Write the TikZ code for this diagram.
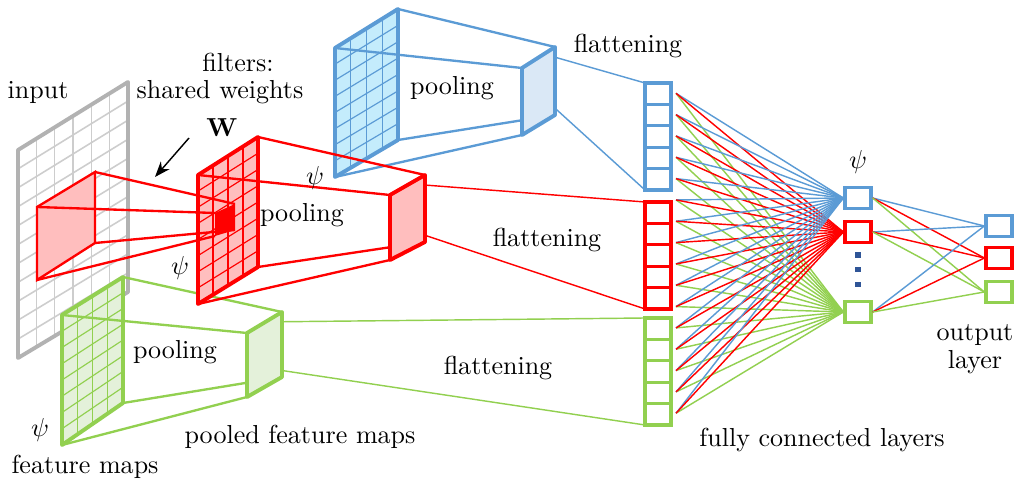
\documentclass[tikz,border=0pt]{standalone}
\usepackage{amsmath,amssymb}
\usepackage{tikz}
\usetikzlibrary{positioning,calc,arrows.meta}

\definecolor{fblue}{RGB}{91,155,213}
\definecolor{fred}{RGB}{255,0,0}
\definecolor{fgreen}{RGB}{146,208,80}
\definecolor{lblue}{RGB}{196,236,252}
\definecolor{pblue}{RGB}{218,232,246}
\definecolor{lred}{RGB}{255,190,190}
\definecolor{lgreen}{RGB}{228,241,218}
\definecolor{dotblue}{RGB}{47,85,151}
\definecolor{ingray}{RGB}{178,178,178}
\definecolor{gridgray}{RGB}{205,205,205}

% inner grid of a slanted map: prefix, inner columns, inner rows, style
\newcommand{\mapgrid}[4]{%
  \foreach \i in {1,...,#2}
    \draw[#4] ($(#1TL)!{\i/(#2+1)}!(#1TR)$) -- ($(#1BL)!{\i/(#2+1)}!(#1BR)$);
  \foreach \j in {1,...,#3}
    \draw[#4] ($(#1TL)!{\j/(#3+1)}!(#1BL)$) -- ($(#1TR)!{\j/(#3+1)}!(#1BR)$);
}

\begin{document}
\begin{tikzpicture}[x=0.0135cm,y=-0.0135cm,node distance=0.289cm,on grid,
    mapline/.style={line width=1.5pt,line join=round},
    frust/.style={line width=0.9pt},
    thin/.style={line width=0.55pt},
    cell/.style={draw,line width=1.3pt,minimum width=0.351cm,minimum height=0.289cm,inner sep=0pt,outer sep=0pt},
    unit/.style={draw,line width=1.3pt,minimum width=0.351cm,minimum height=0.29cm,inner sep=0pt},
    dotsq/.style={fill=dotblue,minimum size=0.07cm,inner sep=0pt}]
   \useasboundingbox (0,0) rectangle (1015,483);

   % corners of the maps
   \coordinate (inTL) at (18,150);  \coordinate (inTR) at (128,82);
   \coordinate (inBR) at (128,292); \coordinate (inBL) at (18,358);
   \coordinate (rqTL) at (37,207);  \coordinate (rqTR) at (95,172);
   \coordinate (rqBR) at (95,243);  \coordinate (rqBL) at (37,280);
   \coordinate (rkTL) at (215,213); \coordinate (rkTR) at (235,204);
   \coordinate (rkBR) at (235,230); \coordinate (rkBL) at (215,236);
   \coordinate (rmTL) at (198,175); \coordinate (rmTR) at (258,137);
   \coordinate (rmBR) at (258,267); \coordinate (rmBL) at (198,304);
   \coordinate (rpTL) at (390,195); \coordinate (rpTR) at (425,175);
   \coordinate (rpBR) at (425,242); \coordinate (rpBL) at (390,260);
   \coordinate (bmTL) at (335,48);  \coordinate (bmTR) at (398,9);
   \coordinate (bmBR) at (398,140); \coordinate (bmBL) at (335,177);
   \coordinate (bpTL) at (522,68);  \coordinate (bpTR) at (555,47);
   \coordinate (bpBR) at (555,115); \coordinate (bpBL) at (522,135);
   \coordinate (gmTL) at (62,315);  \coordinate (gmTR) at (123,277);
   \coordinate (gmBR) at (123,403); \coordinate (gmBL) at (62,445);
   \coordinate (gpTL) at (247,333); \coordinate (gpTR) at (282,312);
   \coordinate (gpBR) at (282,377); \coordinate (gpBL) at (247,397);

   % input
   \fill[white] (inTL) -- (inTR) -- (inBR) -- (inBL) -- cycle;
   \mapgrid{in}{5}{10}{gridgray,line width=0.6pt}
   \draw[mapline,ingray] (inTL) -- (inTR) -- (inBR) -- (inBL) -- cycle;

   % green branch
   \fill[lgreen] (gmTL) -- (gmTR) -- (gmBR) -- (gmBL) -- cycle;
   \mapgrid{gm}{3}{7}{fgreen,line width=0.45pt}
   \draw[mapline,fgreen] (gmTL) -- (gmTR) -- (gmBR) -- (gmBL) -- cycle;
   \draw[frust,fgreen] (gmTL) -- (gpTL) (gmTR) -- (gpTR) (gmBR) -- (gpBR) (gmBL) -- (gpBL);
   \filldraw[mapline,draw=fgreen,fill=lgreen] (gpTL) -- (gpTR) -- (gpBR) -- (gpBL) -- cycle;

   % blue branch
   \fill[lblue] (bmTL) -- (bmTR) -- (bmBR) -- (bmBL) -- cycle;
   \mapgrid{bm}{3}{7}{fblue,line width=0.45pt}
   \draw[mapline,fblue] (bmTL) -- (bmTR) -- (bmBR) -- (bmBL) -- cycle;
   \draw[frust,fblue] (bmTL) -- (bpTL) (bmTR) -- (bpTR) (bmBR) -- (bpBR) (bmBL) -- (bpBL);
   \filldraw[mapline,draw=fblue,fill=pblue] (bpTL) -- (bpTR) -- (bpBR) -- (bpBL) -- cycle;

   % red branch
   \filldraw[frust,draw=fred,fill=lred] (rqTL) -- (rqTR) -- (rqBR) -- (rqBL) -- cycle;
   \fill[lred] (rmTL) -- (rmTR) -- (rmBR) -- (rmBL) -- cycle;
   \mapgrid{rm}{3}{7}{fred,line width=0.45pt}
   \draw[mapline,fred] (rmTL) -- (rmTR) -- (rmBR) -- (rmBL) -- cycle;
   \fill[fred] (rkTL) -- (rkTR) -- (rkBR) -- (rkBL) -- cycle;
   \draw[frust,fred] (rqTL) -- (rkTL) (rqTR) -- (rkTR) (rqBR) -- (rkBR) (rqBL) -- (rkBL);
   \draw[frust,fred] (rmTL) -- (rpTL) (rmTR) -- (rpTR) (rmBR) -- (rpBR) (rmBL) -- (rpBL);
   \filldraw[mapline,draw=fred,fill=lred] (rpTL) -- (rpTR) -- (rpBR) -- (rpBL) -- cycle;

   % flattened columns
   \foreach \i in {1,...,5} {
     \node[cell,draw=fblue] (b\i) at (658,{72.3+21.4*\i}) {};
     \node[cell,draw=fred] (r\i) at (658,{191.3+21.4*\i}) {};
     \node[cell,draw=fgreen] (g\i) at (658,{307.3+21.4*\i}) {};
   }
   \draw[thin,fblue] ($(bpTR)!0.15!(bpBR)$) -- (b1.north west) ($(bpTR)!0.9!(bpBR)$) -- (b5.south west);
   \draw[thin,fred] ($(rpTR)!0.15!(rpBR)$) -- (r1.north west) ($(rpTR)!0.9!(rpBR)$) -- (r5.south west);
   \draw[thin,fgreen] ($(gpTR)!0.15!(gpBR)$) -- (g1.north west) ($(gpTR)!0.9!(gpBR)$) -- (g5.south west);

   % fully connected part
   \node[unit,draw=fblue] (h1) at (858,198) {};
   \node[unit,draw=fred] (h2) [below=0.459cm of h1] {};
   \node[unit,draw=fgreen] (h3) at (858,312) {};
   \node[dotsq] (d1) at (858,255) {};
   \node[dotsq] (d2) [below=0.2cm of d1] {};
   \node[dotsq] (d3) [below=0.2cm of d2] {};
   \node[unit,draw=fblue] (o1) at (999,226) {};
   \node[unit,draw=fred] (o2) [below=0.432cm of o1] {};
   \node[unit,draw=fgreen] (o3) [below=0.459cm of o2] {};

   \foreach \k in {1,...,16} {
     \coordinate (s\k) at (676,{93.3+21.33*(\k-1)});
     \draw[thin,fgreen] (s\k) -- (h3.west);
     \draw[thin,fblue] (s\k) -- (h1.west);
     \draw[thin,fred] (s\k) -- (h2.west);
   }
   \foreach \h in {1,2,3} {
     \draw[thin,fblue] (h\h.east) -- (o1.west);
     \draw[thin,fred] (h\h.east) -- (o2.west);
     \draw[thin,fgreen] (h\h.east) -- (o3.west);
   }

   % labels
   \node (lin) at (38,92) {input};
   \node (lfil) at (238,62) {filters:};
   \node (lsw) at (220,92) {shared weights};
   \node (lw) at (222,128) {$\mathbf{W}$};
   \coordinate (wa) at (189,138);
   \coordinate (wb) at (155,177);
   \draw[-{Stealth[length=6pt]},thin] (wa) -- (wb);
   \node (psr1) at (315,178) {$\psi$};
   \node (psr2) at (180,268) {$\psi$};
   \node (psg) at (40,430) {$\psi$};
   \node (psh) at (858,162) {$\psi$};
   \node (poolr) at (302,215) {pooling};
   \node (poolb) at (452,88) {pooling};
   \node (poolg) at (175,352) {pooling};
   \node (lfm) at (85,467) {feature maps};
   \node (lpfm) at (300,437) {pooled feature maps};
   \node (flb) at (628,46) {flattening};
   \node (flr) at (547,240) {flattening};
   \node (flg) at (498,368) {flattening};
   \node (lout) at (975,335) {output};
   \node (llay) at (975,362) {layer};
   \node (lfc) at (822,440) {fully connected layers};
\end{tikzpicture}
\end{document}
